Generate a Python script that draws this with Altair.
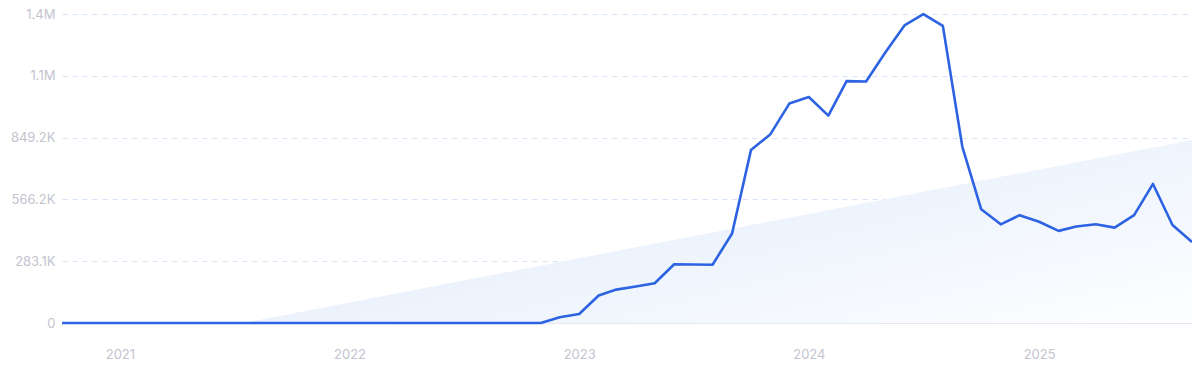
import altair as alt
import pandas as pd

# Monthly series, Oct 2020 .. Sep 2025
start_year, start_month = 2020, 10
values = [0] * 26 + [
    26000, 41000, 126000, 153000, 167000, 182000, 269000, 268000, 267000,
    410000, 792000, 865000, 1005000, 1035000, 950000, 1108000, 1106000,
    1237000, 1363000, 1415000, 1361000, 807000, 521000, 452000, 494000,
    464000, 422000, 442000, 452000, 437000, 494000, 637000, 449000, 371000,
]
dates = []
y, m = start_year, start_month
for _ in values:
    dates.append(f"{y:04d}-{m:02d}-01")
    m += 1
    if m > 12:
        m = 1
        y += 1

trend_dates = ["2021-07-16", "2025-09-01"]
trend_values = [0, 838000]

y_ticks = [0, 283080, 566160, 849240, 1132320, 1415400]
y_labels = ["0", "283.1K", "566.2K", "849.2K", "1.1M", "1.4M"]
x_domain = ["2020-10-01", "2025-09-01"]

df = pd.DataFrame({"date": dates, "value": values})
trend = pd.DataFrame({"date": trend_dates, "value": trend_values})

label_expr = ""
for v, l in zip(y_ticks, y_labels):
    label_expr += f"datum.value == {v} ? '{l}' : "
label_expr += "''"

FONT = "Inter"
LABEL_COLOR = "#c3c4cf"

x_enc = alt.X(
    "date:T",
    scale=alt.Scale(domain=x_domain),
    axis=alt.Axis(
        title=None, format="%Y", tickCount={"interval": "year", "step": 1},
        grid=False, ticks=False, domain=True, domainColor="#e6e7f0",
        labelColor=LABEL_COLOR, labelFont=FONT, labelFontSize=13,
        labelPadding=25,
    ),
)
y_scale = alt.Scale(domain=[0, 1415400], nice=False)

area = alt.Chart(trend).mark_area(
    color=alt.Gradient(
        gradient="linear", x1=0, y1=0.2, x2=1, y2=1,
        stops=[alt.GradientStop(color="#e0ebfb", offset=0),
               alt.GradientStop(color="#fdfeff", offset=1)],
    ),
).encode(
    x=x_enc,
    y=alt.Y("value:Q", scale=y_scale, axis=alt.Axis(
        title=None, values=y_ticks, labelExpr=label_expr,
        grid=True, gridColor="#d3e3f9", gridDash=[5, 5], gridWidth=1,
        ticks=False, domain=False, labelColor=LABEL_COLOR, labelFont=FONT,
        labelFontSize=13, labelPadding=7,
    )),
)

line = alt.Chart(df).mark_line(color="#2d63e2", strokeWidth=2.6, strokeJoin="round").encode(
    x="date:T",
    y=alt.Y("value:Q", scale=y_scale),
)

chart = (area + line).properties(
    width=1130, height=309,
    background="white",
    autosize=alt.AutoSizeParams(type="none"),
    padding={"left": 54, "top": 6, "right": 0, "bottom": 40},
).configure_view(stroke=None)

chart.save("out.html", embed_options={"renderer": "svg", "actions": False})
